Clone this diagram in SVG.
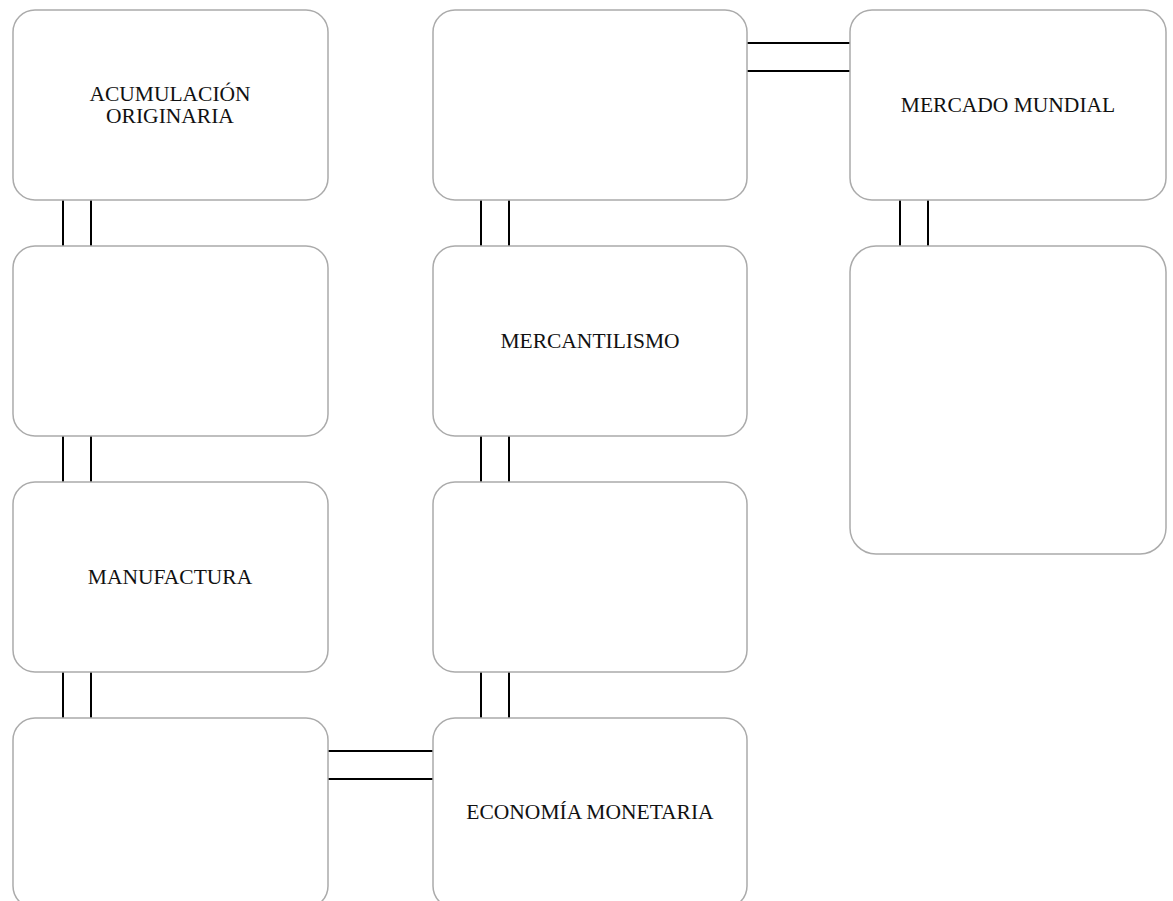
<svg xmlns="http://www.w3.org/2000/svg" width="1173" height="901" viewBox="0 0 1173 901">
<style>
.box{fill:#fff;stroke:#ababab;stroke-width:1.5}
.lbl{font-family:"Liberation Serif","Times New Roman",serif;font-size:21.5px;fill:#111;text-anchor:middle;dominant-baseline:central}
.con line{stroke:#000;stroke-width:2}
</style>
<rect width="1173" height="901" fill="#fff"/>
<g class="con" id="connectors">
<line x1="63" y1="200" x2="63" y2="246"/><line x1="91" y1="200" x2="91" y2="246"/>
<line x1="63" y1="436" x2="63" y2="482"/><line x1="91" y1="436" x2="91" y2="482"/>
<line x1="63" y1="672" x2="63" y2="718"/><line x1="91" y1="672" x2="91" y2="718"/>
<line x1="481" y1="200" x2="481" y2="246"/><line x1="509" y1="200" x2="509" y2="246"/>
<line x1="481" y1="436" x2="481" y2="482"/><line x1="509" y1="436" x2="509" y2="482"/>
<line x1="481" y1="672" x2="481" y2="718"/><line x1="509" y1="672" x2="509" y2="718"/>
<line x1="900" y1="200" x2="900" y2="246"/><line x1="928" y1="200" x2="928" y2="246"/>
<line x1="747" y1="43" x2="850" y2="43"/><line x1="747" y1="71" x2="850" y2="71"/>
<line x1="328" y1="751" x2="433" y2="751"/><line x1="328" y1="779" x2="433" y2="779"/>
</g>
<g id="n1"><rect class="box" x="13" y="10" width="315" height="190" rx="22"/>
<text class="lbl" x="170" y="94">ACUMULACIÓN</text><text class="lbl" x="170" y="116">ORIGINARIA</text></g>
<g id="n2"><rect class="box" x="13" y="246" width="315" height="190" rx="22"/></g>
<g id="n3"><rect class="box" x="13" y="482" width="315" height="190" rx="22"/>
<text class="lbl" x="170" y="577">MANUFACTURA</text></g>
<g id="n4"><rect class="box" x="13" y="718" width="315" height="190" rx="22"/></g>
<g id="n5"><rect class="box" x="433" y="10" width="314" height="190" rx="22"/></g>
<g id="n6"><rect class="box" x="433" y="246" width="314" height="190" rx="22"/>
<text class="lbl" x="590" y="341">MERCANTILISMO</text></g>
<g id="n7"><rect class="box" x="433" y="482" width="314" height="190" rx="22"/></g>
<g id="n8"><rect class="box" x="433" y="718" width="314" height="190" rx="22"/>
<text class="lbl" x="590" y="812">ECONOMÍA MONETARIA</text></g>
<g id="n9"><rect class="box" x="850" y="10" width="316" height="190" rx="22"/>
<text class="lbl" x="1008" y="105">MERCADO MUNDIAL</text></g>
<g id="n10"><rect class="box" x="850" y="246" width="316" height="308" rx="26"/></g>
</svg>
